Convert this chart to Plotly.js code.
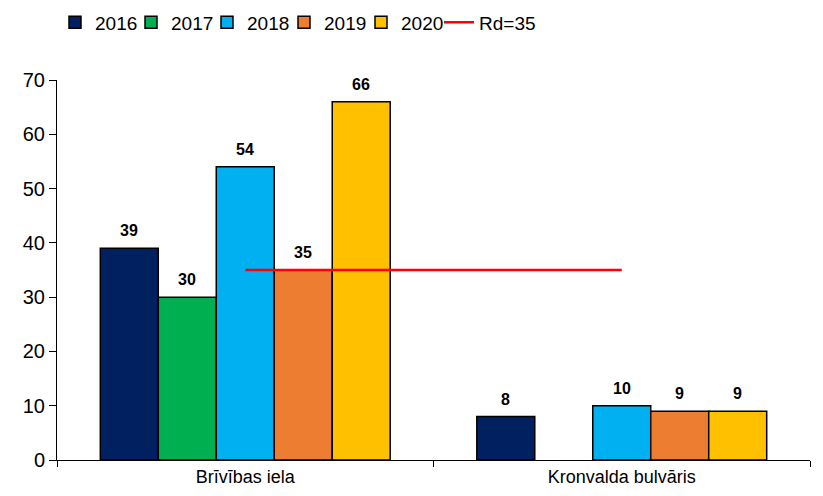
<!DOCTYPE html>
<html>
<head>
<meta charset="utf-8">
<script src="https://cdn.plot.ly/plotly-3.0.1.min.js"></script>
<style>html,body{margin:0;padding:0;background:#fff;}#chart{width:823px;height:496px;}</style>
</head>
<body>
<div id="chart"></div>
<script>
const categories = ["Brīvības iela", "Kronvalda bulvāris"];
const seriesNames = ["2016", "2017", "2018", "2019", "2020"];
const v2016 = [39, 8];
const v2017 = [30, null];
const v2018 = [54, 10];
const v2019 = [35, 9];
const v2020 = [66, 9];
const limitName = "Rd=35";
const limitValues = [35, 35];

const colors = ["#002060", "#00B050", "#00B0F0", "#ED7D31", "#FFC000"];
const allValues = [v2016, v2017, v2018, v2019, v2020];

const W = 823, H = 496;
const margin = {l: 57, r: 13, t: 80, b: 36};
const bargap = 0.23;
const plotW = W - margin.l - margin.r;
const barPx = plotW / categories.length * (1 - bargap) / allValues.length;

// legend entry left edges (px) – one legend per entry to match spacing
const legendX = [55, 131, 207, 284, 361, 439];
const legendIds = legendX.map((_, k) => k === 0 ? "legend" : "legend" + (k + 1));

const traces = allValues.map((vals, i) => ({
  type: "bar",
  name: seriesNames[i],
  legend: legendIds[i],
  x: categories,
  y: vals,
  marker: {color: colors[i], line: {color: "#000", width: 1.5}},
  hoverinfo: "none"
}));

traces.push({
  type: "scatter",
  mode: "lines",
  name: limitName,
  legend: legendIds[allValues.length],
  x: categories,
  y: limitValues,
  line: {color: "#FF0000", width: 2.5},
  hoverinfo: "none"
});

const annotations = [];
allValues.forEach((vals, i) => {
  vals.forEach((v, j) => {
    if (v === null) return;
    annotations.push({
      x: categories[j], y: v, xref: "x", yref: "y",
      text: "<b>" + v + "</b>", showarrow: false,
      xanchor: "center", yanchor: "bottom",
      xshift: (i - (allValues.length - 1) / 2) * barPx,
      yshift: 7,
      font: {family: "Arial, Liberation Sans, sans-serif", size: 16, color: "#000"}
    });
  });
});

const legendBase = {
  orientation: "h",
  xref: "container",
  yref: "container",
  xanchor: "left",
  y: 0.955, yanchor: "middle",
  font: {size: 19, color: "#000"},
  itemwidth: 30,
  traceorder: "normal",
  bgcolor: "rgba(0,0,0,0)"
};

const layout = {
  width: W,
  height: H,
  margin: Object.assign({autoexpand: false}, margin),
  paper_bgcolor: "#fff",
  plot_bgcolor: "#fff",
  barmode: "group",
  bargap: bargap,
  bargroupgap: 0,
  font: {family: "Arial, Liberation Sans, sans-serif", color: "#000"},
  showlegend: true,
  annotations: annotations,
  xaxis: {
    type: "category",
    showline: true,
    linecolor: "#000",
    linewidth: 1,
    ticks: "outside",
    tickson: "boundaries",
    ticklen: 6,
    tickcolor: "#000",
    tickfont: {size: 18, color: "#000"},
    showgrid: false,
    zeroline: false
  },
  yaxis: {
    range: [0, 70],
    dtick: 10,
    showline: true,
    linecolor: "#000",
    linewidth: 1,
    ticks: "outside",
    ticklen: 7,
    tickcolor: "#000",
    tickfont: {size: 20, color: "#000"},
    showgrid: false,
    zeroline: false
  }
};
legendIds.forEach((id, k) => {
  layout[id] = Object.assign({}, legendBase, {x: legendX[k] / W});
});

Plotly.newPlot("chart", traces, layout, {displayModeBar: false, staticPlot: true});
</script>
</body>
</html>
